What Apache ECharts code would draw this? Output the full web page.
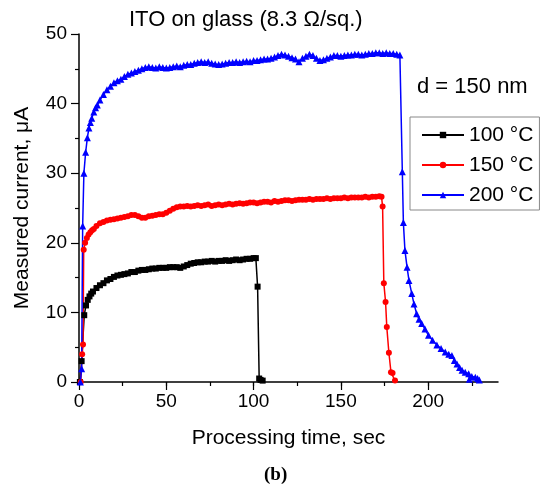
<!DOCTYPE html>
<html>
<head>
<meta charset="utf-8">
<script src="https://cdn.jsdelivr.net/npm/echarts@6/dist/echarts.min.js"></script>
<style>html,body{margin:0;padding:0;background:#fff}#c{width:550px;height:497px}</style>
</head>
<body>
<div id="c"></div>
<script>
var seriesNames = ['100 °C', '150 °C', '200 °C'];
var xMajorTicks = [0, 50, 100, 150, 200];
var xMinorTicks = [0, 25, 50, 75, 100, 125, 150, 175, 200, 225];

var data100 = [[0.5,0],[1.5,3],[3,9.6],[4,11],[5,11.8],[6,12.3],[7,12.7],[8,13],[10,13.5],[12,13.9],[14,14.2],[16,14.6],[18,14.8],[20,15.1],[22,15.3],[24,15.4],[26,15.5],[28,15.6],[30,15.8],[32,15.8],[34,16],[36,16.1],[38,16.1],[40,16.2],[42,16.3],[44,16.3],[46,16.4],[48,16.4],[50,16.4],[52,16.5],[54,16.5],[56,16.5],[58,16.4],[60,16.6],[62,16.8],[64,17],[66,17.1],[68,17.2],[70,17.2],[72,17.3],[74,17.3],[76,17.4],[78,17.3],[80,17.4],[82,17.4],[84,17.5],[86,17.4],[88,17.5],[90,17.6],[92,17.5],[94,17.6],[96,17.7],[98,17.7],[100,17.8],[101.3,17.8],[102.3,13.7],[103.2,0.5],[104,0.3],[105.2,0.2]];

var data150 = [[1,0],[1.8,4],[2.3,5.4],[2.7,19],[3.5,20],[4.5,20.7],[5.5,21.2],[6.5,21.5],[7.5,21.8],[8.5,22],[10,22.4],[12,22.8],[14,23],[16,23.2],[18,23.3],[20,23.4],[22,23.5],[24,23.6],[26,23.7],[28,23.8],[30,24],[32,24],[34,23.8],[36,23.6],[38,23.6],[40,23.8],[42,23.9],[44,24],[46,24.1],[48,24.1],[50,24.3],[52,24.6],[54,24.9],[56,25.1],[58,25.2],[60,25.2],[62,25.3],[64,25.2],[66,25.3],[68,25.4],[70,25.3],[72,25.4],[74,25.5],[76,25.3],[78,25.4],[80,25.5],[82,25.4],[84,25.5],[86,25.6],[88,25.5],[90,25.6],[92,25.7],[94,25.6],[96,25.7],[98,25.8],[100,25.8],[102,25.7],[104,25.8],[106,25.9],[108,25.9],[110,25.8],[112,26],[114,25.9],[116,26],[118,26.1],[120,26.1],[122,26],[124,26.1],[126,26.2],[128,26.2],[130,26.2],[132,26.3],[134,26.2],[136,26.3],[138,26.3],[140,26.3],[142,26.4],[144,26.3],[146,26.4],[148,26.4],[150,26.4],[152,26.5],[154,26.4],[156,26.5],[158,26.5],[160,26.5],[162,26.5],[164,26.6],[166,26.5],[168,26.6],[170,26.6],[172,26.7],[173.3,26.6],[173.9,25.2],[174.6,14.2],[175.6,11.5],[176.3,7.9],[177.5,4.2],[178.7,1.4],[179.6,1.3],[181,0.2]];

var data200 = [[0.8,0],[1.5,1.9],[2.1,22.4],[2.8,30],[3.8,33],[4.8,35.1],[5.7,36.5],[6.5,37.3],[7.3,37.9],[8.5,38.8],[9.5,39.4],[10.5,39.8],[12,40.5],[14,41.3],[16,42],[18,42.5],[20,43],[22,43.3],[24,43.5],[26,43.9],[28,44.2],[30,44.4],[32,44.6],[34,44.8],[36,45],[38,45.2],[40,45.3],[42,45.2],[44,45.1],[46,45.3],[48,45.2],[50,45.1],[52,45.2],[54,45.3],[56,45.4],[58,45.3],[60,45.5],[62,45.6],[64,45.6],[66,45.8],[68,45.9],[70,46],[72,45.9],[74,46],[76,45.8],[78,45.7],[80,45.6],[82,45.7],[84,45.8],[86,45.9],[88,45.9],[90,46],[92,45.9],[94,46],[96,46.1],[98,46],[100,46.2],[102,46.2],[104,46.3],[106,46.4],[108,46.4],[110,46.5],[112,46.7],[114,46.9],[116,47.1],[118,47],[120,46.8],[122,46.6],[124,46.4],[126,46],[128,46.5],[130,46.8],[132,47.1],[134,46.9],[136,46.5],[138,46.2],[140,46.3],[142,46.5],[144,46.7],[146,46.9],[148,46.9],[150,46.8],[152,46.9],[154,47],[156,47],[158,47.1],[160,47.1],[162,47],[164,47.1],[166,47.2],[168,47.2],[170,47.3],[172,47.3],[174,47.2],[176,47.3],[178,47.2],[180,47.2],[182,47.1],[183.8,47],[185.2,30.2],[185.8,22.9],[186.7,18.9],[187.9,16.5],[189,14.6],[190.6,12.7],[191.9,11.2],[193.4,9.8],[194.8,9],[196.3,8.4],[198.2,7.6],[200.2,6.7],[202.5,6],[205,5.3],[207.4,4.8],[209.8,4.3],[211.8,4],[213.6,3.8],[215,3.1],[216.5,2.6],[218,2.1],[219.4,1.7],[221.2,1.4],[223.2,1.2],[223.6,0.4],[225,0.8],[227,0.7],[228.3,0.5],[229.3,0.3]];

var FONT = 'Liberation Sans, Arial, sans-serif';
var chart = echarts.init(document.getElementById('c'), null, {renderer: 'canvas'});
var axisLineStyle = {show: true, lineStyle: {color: '#000', width: 1.5}};
chart.setOption({
  animation: false,
  backgroundColor: '#fff',
  grid: {left: 79, right: 52, top: 34, bottom: 115, containLabel: false},
  xAxis: [{
    type: 'value', min: 0, max: 240, interval: 25,
    axisLine: axisLineStyle, splitLine: {show: false},
    axisTick: {show: true, length: 4, lineStyle: {color: '#000', width: 1.2}, customValues: xMinorTicks},
    axisLabel: {color: '#000', fontFamily: FONT, fontSize: 19, margin: 10, customValues: xMajorTicks},
    name: 'Processing time, sec', nameLocation: 'middle', nameGap: 46,
    nameTextStyle: {color: '#000', fontFamily: FONT, fontSize: 21}
  }, {
    type: 'value', min: 0, max: 240, interval: 25, position: 'bottom',
    axisLine: {show: false}, splitLine: {show: false},
    axisTick: {show: true, length: 8, lineStyle: {color: '#000', width: 1.2}, customValues: xMajorTicks},
    axisLabel: {show: false}
  }],
  yAxis: {
    type: 'value', min: 0, max: 50, interval: 10,
    axisLine: axisLineStyle, splitLine: {show: false},
    axisTick: {show: true, length: 8, lineStyle: {color: '#000', width: 1.2}},
    minorTick: {show: true, splitNumber: 2, length: 4, lineStyle: {color: '#000', width: 1.2}},
    axisLabel: {color: '#000', fontFamily: FONT, fontSize: 19, margin: 12},
    name: 'Measured current, μA', nameLocation: 'middle', nameGap: 46, nameRotate: 90,
    nameTextStyle: {color: '#000', fontFamily: FONT, fontSize: 21}
  },
  legend: {
    orient: 'vertical', left: 410, top: 117,
    data: seriesNames,
    itemWidth: 42, itemHeight: 8, itemGap: 6,
    padding: [6, 6, 3, 11],
    borderColor: '#888', borderWidth: 1,
    textStyle: {color: '#000', fontFamily: FONT, fontSize: 21, lineHeight: 24}
  },
  graphic: [
    {type: 'text', left: 129, top: 9, style: {text: 'ITO on glass (8.3 Ω/sq.)', fill: '#000', font: '22px ' + FONT}},
    {type: 'text', left: 417, top: 76, style: {text: 'd = 150 nm', fill: '#000', font: '22px ' + FONT}},
    {type: 'text', left: 264, top: 466, style: {text: '(b)', fill: '#000', font: 'bold 19px Liberation Serif, serif'}}
  ],
  series: [{
    name: seriesNames[0], type: 'line', data: data100, xAxisIndex: 0,
    symbol: 'rect', symbolSize: 6, showAllSymbol: true,
    lineStyle: {color: '#000', width: 1.5}, itemStyle: {color: '#000'}
  }, {
    name: seriesNames[1], type: 'line', data: data150, xAxisIndex: 0,
    symbol: 'circle', symbolSize: 6, showAllSymbol: true,
    lineStyle: {color: '#ff0000', width: 1.5}, itemStyle: {color: '#ff0000'}
  }, {
    name: seriesNames[2], type: 'line', data: data200, xAxisIndex: 0,
    symbol: 'triangle', symbolSize: 7, showAllSymbol: true,
    lineStyle: {color: '#0000ff', width: 1.5}, itemStyle: {color: '#0000ff'}
  }]
});
</script>
</body>
</html>
